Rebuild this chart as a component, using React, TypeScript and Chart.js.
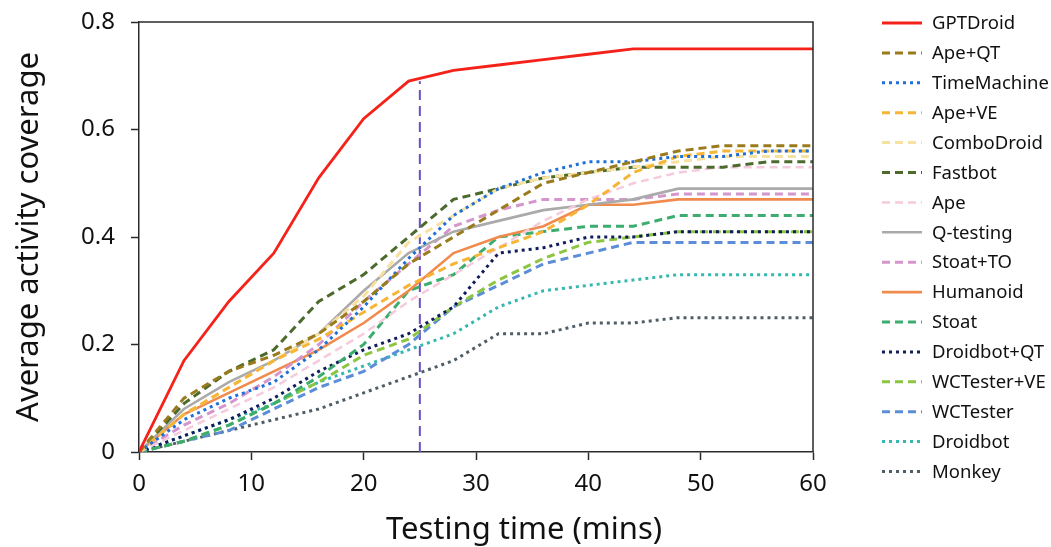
import React, { useEffect, useRef } from "react";
import { Chart, registerables } from "chart.js";

Chart.register(...registerables);

// ---- Data ----
const minutes = [0, 4, 8, 12, 16, 20, 24, 28, 32, 36, 40, 44, 48, 52, 56, 60];

const gptDroid = [0, 0.17, 0.28, 0.37, 0.51, 0.62, 0.69, 0.71, 0.72, 0.73, 0.74, 0.75, 0.75, 0.75, 0.75, 0.75];
const apeQT = [0, 0.10, 0.15, 0.18, 0.22, 0.28, 0.35, 0.40, 0.45, 0.50, 0.52, 0.54, 0.56, 0.57, 0.57, 0.57];
const timeMachine = [0, 0.06, 0.10, 0.13, 0.19, 0.27, 0.36, 0.44, 0.49, 0.52, 0.54, 0.54, 0.55, 0.55, 0.56, 0.56];
const apeVE = [0, 0.07, 0.12, 0.17, 0.21, 0.26, 0.31, 0.35, 0.38, 0.41, 0.46, 0.52, 0.55, 0.56, 0.56, 0.56];
const comboDroid = [0, 0.07, 0.12, 0.17, 0.22, 0.29, 0.39, 0.44, 0.49, 0.51, 0.52, 0.53, 0.54, 0.55, 0.55, 0.55];
const fastbot = [0, 0.09, 0.15, 0.19, 0.28, 0.33, 0.40, 0.47, 0.49, 0.51, 0.52, 0.53, 0.53, 0.53, 0.54, 0.54];
const ape = [0, 0.04, 0.08, 0.12, 0.17, 0.22, 0.28, 0.33, 0.38, 0.43, 0.47, 0.50, 0.52, 0.53, 0.53, 0.53];
const qTesting = [0, 0.08, 0.13, 0.17, 0.22, 0.30, 0.37, 0.41, 0.43, 0.45, 0.46, 0.47, 0.49, 0.49, 0.49, 0.49];
const stoatTO = [0, 0.05, 0.09, 0.14, 0.20, 0.28, 0.35, 0.42, 0.45, 0.47, 0.47, 0.47, 0.48, 0.48, 0.48, 0.48];
const humanoid = [0, 0.07, 0.11, 0.15, 0.19, 0.24, 0.30, 0.37, 0.40, 0.42, 0.46, 0.46, 0.47, 0.47, 0.47, 0.47];
const stoat = [0, 0.02, 0.05, 0.09, 0.14, 0.20, 0.30, 0.33, 0.40, 0.41, 0.42, 0.42, 0.44, 0.44, 0.44, 0.44];
const droidbotQT = [0, 0.03, 0.06, 0.10, 0.15, 0.19, 0.22, 0.27, 0.37, 0.38, 0.40, 0.40, 0.41, 0.41, 0.41, 0.41];
const wcTesterVE = [0, 0.02, 0.05, 0.09, 0.13, 0.18, 0.21, 0.27, 0.32, 0.36, 0.39, 0.40, 0.41, 0.41, 0.41, 0.41];
const wcTester = [0, 0.02, 0.04, 0.08, 0.12, 0.15, 0.20, 0.27, 0.31, 0.35, 0.37, 0.39, 0.39, 0.39, 0.39, 0.39];
const droidbot = [0, 0.03, 0.06, 0.09, 0.13, 0.16, 0.19, 0.22, 0.27, 0.30, 0.31, 0.32, 0.33, 0.33, 0.33, 0.33];
const monkey = [0, 0.02, 0.04, 0.06, 0.08, 0.11, 0.14, 0.17, 0.22, 0.22, 0.24, 0.24, 0.25, 0.25, 0.25, 0.25];

// Marker: vertical dashed line at 25 minutes
const markerX = [25, 25];
const markerY = [0, 0.69];

const xTicks = [0, 10, 20, 30, 40, 50, 60];
const yTicks = [0, 0.2, 0.4, 0.6, 0.8];

const xTitle = "Testing time (mins)";
const yTitle = "Average activity coverage";

// ---- Styles ----
const DASH = [8, 5];
const DOT = [3, 4];

const series = [
  { label: "GPTDroid", values: gptDroid, color: "#F5221A", dash: [], width: 2.8 },
  { label: "Ape+QT", values: apeQT, color: "#9A7B1C", dash: DASH, width: 3 },
  { label: "TimeMachine", values: timeMachine, color: "#1F6FD6", dash: DOT, width: 3 },
  { label: "Ape+VE", values: apeVE, color: "#F6B534", dash: DASH, width: 3 },
  { label: "ComboDroid", values: comboDroid, color: "#F7E1A0", dash: DASH, width: 3 },
  { label: "Fastbot", values: fastbot, color: "#4B6A2C", dash: DASH, width: 3 },
  { label: "Ape", values: ape, color: "#F6CADD", dash: DASH, width: 2.5 },
  { label: "Q-testing", values: qTesting, color: "#AAAAAA", dash: [], width: 2.6 },
  { label: "Stoat+TO", values: stoatTO, color: "#D496CC", dash: DASH, width: 3 },
  { label: "Humanoid", values: humanoid, color: "#F08A4D", dash: [], width: 2.6 },
  { label: "Stoat", values: stoat, color: "#3CAD6E", dash: DASH, width: 3 },
  { label: "Droidbot+QT", values: droidbotQT, color: "#101C5C", dash: DOT, width: 3 },
  { label: "WCTester+VE", values: wcTesterVE, color: "#8CC540", dash: DASH, width: 3 },
  { label: "WCTester", values: wcTester, color: "#5B8ED7", dash: DASH, width: 3 },
  { label: "Droidbot", values: droidbot, color: "#36B8B2", dash: DOT, width: 3 },
  { label: "Monkey", values: monkey, color: "#4F5E65", dash: DOT, width: 3 },
];

const FONT = "'Noto Sans', 'DejaVu Sans', sans-serif";
const AXIS_COLOR = "#2b2b2b";

const framePlugin = {
  id: "frameAndLegend",
  afterDraw(chart: any) {
    const { ctx, chartArea: a } = chart;
    ctx.save();
    // top and right frame lines
    ctx.strokeStyle = AXIS_COLOR;
    ctx.lineWidth = 1.5;
    ctx.setLineDash([]);
    ctx.beginPath();
    ctx.moveTo(a.left, a.top);
    ctx.lineTo(a.right, a.top);
    ctx.lineTo(a.right, a.bottom);
    ctx.stroke();

    // x axis title
    ctx.fillStyle = "#111";
    ctx.font = `31px ${FONT}`;
    ctx.textAlign = "center";
    ctx.textBaseline = "middle";
    ctx.fillText(xTitle, 524, 530);

    // legend
    ctx.font = `18.5px ${FONT}`;
    ctx.textAlign = "left";
    const ds = chart.data.datasets.filter((d: any) => !d.isMarker);
    ds.forEach((d: any, i: number) => {
      const y = 23 + i * 29.9;
      ctx.strokeStyle = d.borderColor;
      ctx.lineWidth = d.borderWidth;
      ctx.setLineDash(d.borderDash || []);
      ctx.beginPath();
      ctx.moveTo(882, y);
      ctx.lineTo(922, y);
      ctx.stroke();
      ctx.setLineDash([]);
      ctx.fillStyle = "#111";
      ctx.fillText(d.label, 932, y + 1);
    });
    ctx.restore();
  },
};

export default function App() {
  const canvasRef = useRef<HTMLCanvasElement | null>(null);

  useEffect(() => {
    if (!canvasRef.current) return;
    const datasets: any[] = series.map((s) => ({
      label: s.label,
      data: minutes.map((m, i) => ({ x: m, y: s.values[i] })),
      borderColor: s.color,
      backgroundColor: s.color,
      borderDash: s.dash,
      borderWidth: s.width,
      pointRadius: 0,
      tension: 0,
      fill: false,
    }));
    datasets.push({
      label: "marker",
      isMarker: true,
      data: markerX.map((x, i) => ({ x, y: markerY[i] })),
      borderColor: "#6B4FC4",
      borderDash: [10, 6],
      borderWidth: 2,
      pointRadius: 0,
      fill: false,
      order: 100,
    });

    const chart = new Chart(canvasRef.current, {
      type: "line",
      data: { datasets },
      plugins: [framePlugin],
      options: {
        animation: false,
        responsive: true,
        maintainAspectRatio: false,
        layout: { padding: { left: 0, top: 22, right: 238, bottom: 0 } },
        plugins: {
          legend: { display: false },
          tooltip: { enabled: false },
        },
        scales: {
          x: {
            type: "linear",
            min: 0,
            max: 60,
            afterBuildTicks: (scale: any) => {
              scale.ticks = xTicks.map((v) => ({ value: v }));
            },
            afterFit: (scale: any) => {
              scale.height = 95;
              scale.paddingLeft = 0;
              scale.paddingRight = 0;
            },
            ticks: {
              font: { family: FONT, size: 24 },
              color: "#111",
              padding: 10,
              maxRotation: 0,
            },
            grid: {
              drawOnChartArea: false,
              drawTicks: true,
              tickLength: 8,
              tickColor: AXIS_COLOR,
              tickWidth: 1.5,
            },
            border: { color: AXIS_COLOR, width: 1.5 },
          },
          y: {
            type: "linear",
            min: 0,
            max: 0.8,
            afterBuildTicks: (scale: any) => {
              scale.ticks = yTicks.map((v) => ({ value: v }));
            },
            afterFit: (scale: any) => {
              scale.width = 139;
              scale.paddingTop = 0;
              scale.paddingBottom = 0;
            },
            ticks: {
              font: { family: FONT, size: 24 },
              color: "#111",
              padding: 16,
            },
            grid: {
              drawOnChartArea: false,
              drawTicks: true,
              tickLength: 8,
              tickColor: AXIS_COLOR,
              tickWidth: 1.5,
            },
            border: { color: AXIS_COLOR, width: 1.5 },
            title: {
              display: true,
              text: yTitle,
              font: { family: FONT, size: 31 },
              color: "#111",
              padding: { top: 11, bottom: 0 },
            },
          },
        },
      } as any,
    });
    return () => chart.destroy();
  }, []);

  return (
    <div style={{ position: "fixed", left: 0, top: 0, width: 1051, height: 547, background: "#fff" }}>
      <canvas ref={canvasRef} />
    </div>
  );
}
